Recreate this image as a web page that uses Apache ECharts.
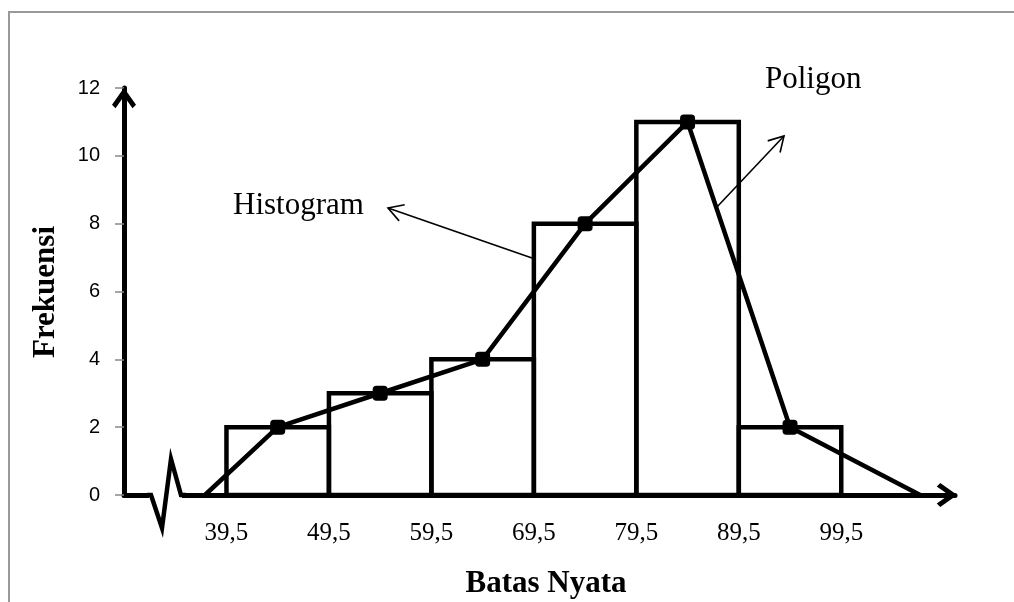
<!DOCTYPE html>
<html>
<head>
<meta charset="utf-8">
<script src="https://cdn.jsdelivr.net/npm/echarts@6/dist/echarts.min.js"></script>
<style>
html,body{margin:0;padding:0;background:#fff;}
#chart{width:1014px;height:602px;}
</style>
</head>
<body>
<div id="chart"></div>
<script>
// ---- data ----
const classBounds = [39.5, 49.5, 59.5, 69.5, 79.5, 89.5, 99.5];
const frequencies = [2, 3, 4, 8, 11, 2];
const midpoints = [44.5, 54.5, 64.5, 74.5, 84.5, 94.5];
const polygonStart = [37.4, 0];
const polygonEnd = [107.2, 0];
const yMin = 0, yMax = 12, yStep = 2;
const xTitle = 'Batas Nyata';
const yTitle = 'Frekuensi';
const histLabel = 'Histogram';
const polyLabel = 'Poligon';

// ---- build ----
const barData = frequencies.map((f, i) => [classBounds[i], classBounds[i + 1], f]);
const polyData = [{ value: polygonStart, symbol: 'none' }]
  .concat(midpoints.map((m, i) => ({ value: [m, frequencies[i]] })))
  .concat([{ value: polygonEnd, symbol: 'none' }]);

const serif = 'Liberation Serif, Times New Roman, serif';
const chevron = 'path://M12,0 L24,17 L20.5,20.5 L12,8.5 L3.5,20.5 L0,17 Z';

const chart = echarts.init(document.getElementById('chart'), null, { renderer: 'canvas' });

function arrowLine(x1, y1, x2, y2) {
  return {
    type: 'polyline', z: 50,
    shape: { points: [[x1, y1], [x2, y2]] },
    style: { stroke: '#000', lineWidth: 1.6, fill: null }
  };
}
function arrowHead(x1, y1, x2, y2) {
  const dx = x1 - x2, dy = y1 - y2, L = Math.hypot(dx, dy);
  const ux = dx / L, uy = dy / L, a = 17, c = Math.cos(Math.PI / 6), s = Math.sin(Math.PI / 6);
  const r1 = [ux * c - uy * s, ux * s + uy * c];
  const r2 = [ux * c + uy * s, -ux * s + uy * c];
  return {
    type: 'polyline', z: 50,
    shape: { points: [[x2 + r1[0] * a, y2 + r1[1] * a], [x2, y2], [x2 + r2[0] * a, y2 + r2[1] * a]] },
    style: { stroke: '#000', lineWidth: 1.6, fill: null }
  };
}

const option = {
  animation: false,
  backgroundColor: '#fff',
  grid: { left: 124, right: 59, top: 88, bottom: 107 },
  xAxis: {
    type: 'value',
    min: 29.5, max: 110.6,
    splitLine: { show: false },
    axisTick: { show: false },
    axisLine: {
      show: true,
      lineStyle: { color: '#000', width: 5 },
      symbol: ['none', chevron],
      symbolSize: [24, 21],
      symbolOffset: [0, -8]
    },
    axisLabel: {
      show: true,
      customValues: classBounds,
      formatter: v => v.toFixed(1).replace('.', ','),
      fontFamily: serif, fontSize: 25, color: '#000', margin: 26
    }
  },
  yAxis: {
    type: 'value',
    min: yMin, max: yMax, interval: yStep,
    splitLine: { show: false },
    axisTick: { show: true, length: 9, lineStyle: { color: '#888', width: 1.5 } },
    axisLine: {
      show: true,
      lineStyle: { color: '#000', width: 5 },
      symbol: ['none', chevron],
      symbolSize: [24, 21],
      symbolOffset: [0, -10]
    },
    axisLabel: {
      fontFamily: 'Liberation Sans, Arial, sans-serif', fontSize: 20, color: '#000', margin: 24
    }
  },
  series: [
    {
      type: 'custom',
      data: barData,
      encode: { x: [0, 1], y: 2 },
      z: 3,
      renderItem: function (params, api) {
        const p0 = api.coord([api.value(0), api.value(2)]);
        const p1 = api.coord([api.value(1), 0]);
        return {
          type: 'rect',
          shape: { x: p0[0], y: p0[1], width: p1[0] - p0[0], height: p1[1] - p0[1] },
          style: { fill: null, stroke: '#000', lineWidth: 4.5 }
        };
      }
    },
    {
      type: 'line',
      data: polyData,
      z: 4,
      symbol: 'roundRect',
      symbolSize: 15,
      itemStyle: { color: '#000' },
      lineStyle: { color: '#000', width: 4.5 }
    }
  ],
  graphic: [
    { type: 'rect', z: 0, shape: { x: 9, y: 12, width: 1200, height: 800 }, style: { fill: null, stroke: '#999', lineWidth: 2 } },
    { type: 'rect', z: 60, shape: { x: 149, y: 491, width: 33, height: 9 }, style: { fill: '#fff' } },
    { type: 'polyline', z: 61, shape: { points: [[147, 495], [151, 495], [162, 528], [171, 459], [181, 495], [186, 495]] }, style: { stroke: '#000', lineWidth: 4.5, fill: null, lineJoin: 'miter' } },
    { type: 'text', z: 50, style: { text: histLabel, x: 233, y: 206, font: '31px ' + serif, fill: '#000', verticalAlign: 'middle', align: 'left' } },
    { type: 'text', z: 50, style: { text: polyLabel, x: 765, y: 80, font: '31px ' + serif, fill: '#000', verticalAlign: 'middle', align: 'left' } },
    { type: 'text', z: 50, style: { text: xTitle, x: 546, y: 584, font: 'bold 31px ' + serif, fill: '#000', verticalAlign: 'middle', align: 'center' } },
    { type: 'text', z: 50, rotation: Math.PI / 2, x: 46, y: 292, style: { text: yTitle, x: 0, y: 0, font: 'bold 31px ' + serif, fill: '#000', verticalAlign: 'middle', align: 'center' } },
    arrowLine(532, 258, 388, 208), arrowHead(532, 258, 388, 208),
    arrowLine(716, 208, 784, 136), arrowHead(716, 208, 784, 136)
  ]
};
chart.setOption(option);
</script>
</body>
</html>
